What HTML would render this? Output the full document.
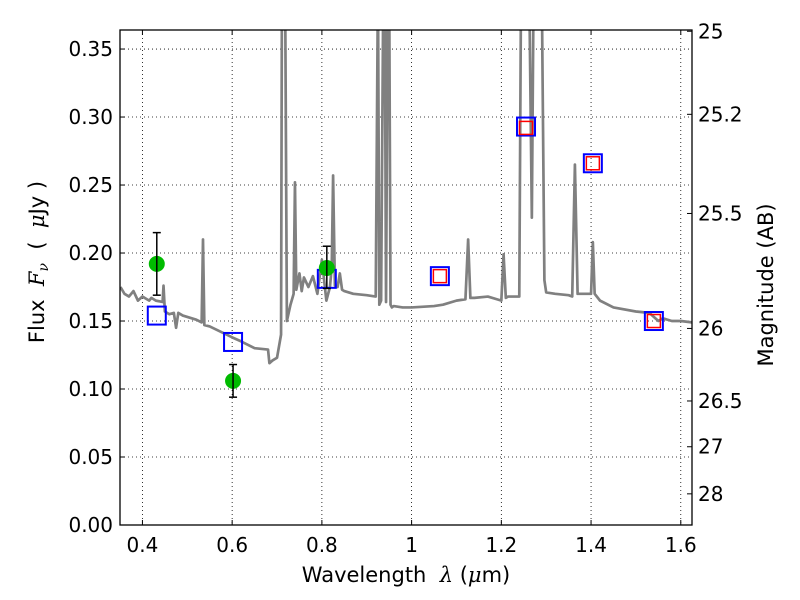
<!DOCTYPE html>
<html><head><meta charset="utf-8"><style>
body{margin:0;background:#fff;}
svg{display:block;font-family:"DejaVu Sans","Liberation Sans",sans-serif;}
</style></head><body>
<svg id="chart" width="800" height="600" viewBox="0 0 800 600" xmlns="http://www.w3.org/2000/svg"></svg>
<script>
const specLam=[0.351,0.36,0.37,0.38,0.39,0.40,0.41,0.415,0.42,0.43,0.445,0.447,0.45,0.46,0.47,0.475,0.48,0.49,0.50,0.52,0.532,0.535,0.538,0.55,0.60,0.62,0.65,0.68,0.683,0.69,0.70,0.709,0.711,0.714,0.718,0.722,0.73,0.737,0.74,0.743,0.75,0.755,0.76,0.77,0.78,0.79,0.80,0.81,0.818,0.822,0.825,0.829,0.835,0.84,0.845,0.85,0.87,0.90,0.92,0.925,0.928,0.932,0.937,0.940,0.943,0.947,0.950,0.953,0.956,0.96,0.98,1.00,1.05,1.07,1.10,1.12,1.126,1.131,1.14,1.17,1.19,1.20,1.205,1.210,1.215,1.22,1.24,1.244,1.25,1.262,1.268,1.272,1.276,1.282,1.29,1.296,1.30,1.32,1.35,1.358,1.364,1.370,1.375,1.40,1.404,1.408,1.42,1.45,1.50,1.53,1.55,1.56,1.58,1.60,1.625];
const specFlux=[0.175,0.170,0.168,0.172,0.165,0.168,0.166,0.165,0.167,0.165,0.164,0.176,0.157,0.155,0.156,0.145,0.156,0.154,0.153,0.151,0.149,0.210,0.147,0.146,0.138,0.135,0.130,0.129,0.119,0.121,0.123,0.140,0.40,0.40,0.40,0.150,0.162,0.17,0.252,0.173,0.185,0.172,0.182,0.175,0.183,0.170,0.195,0.165,0.175,0.190,0.257,0.176,0.175,0.185,0.173,0.172,0.170,0.169,0.168,0.40,0.162,0.165,0.40,0.40,0.164,0.40,0.40,0.162,0.160,0.161,0.160,0.160,0.161,0.162,0.165,0.166,0.210,0.167,0.167,0.168,0.166,0.165,0.199,0.167,0.168,0.168,0.168,0.40,0.40,0.40,0.226,0.40,0.40,0.40,0.40,0.18,0.171,0.170,0.169,0.168,0.265,0.170,0.170,0.170,0.208,0.170,0.165,0.160,0.157,0.156,0.150,0.152,0.150,0.150,0.149];
const photLam=[0.432,0.602,0.811,1.063,1.255,1.404,1.540];
const photFlux=[0.154,0.1346,0.181,0.183,0.293,0.266,0.150];
const modelLam=[1.063,1.255,1.404,1.540];
const modelFlux=[0.183,0.292,0.266,0.150];
const obsLam=[0.432,0.602,0.811];
const obsFlux=[0.192,0.106,0.189];
const obsErrUp=[0.023,0.012,0.016];
const obsErrDn=[0.023,0.012,0.015];
const xTicks=[0.4,0.6,0.8,1.0,1.2,1.4,1.6];
const xTickLabels=["0.4","0.6","0.8","1","1.2","1.4","1.6"];
const yTicks=[0,0.05,0.10,0.15,0.20,0.25,0.30,0.35];
const yTickLabels=["0.00","0.05","0.10","0.15","0.20","0.25","0.30","0.35"];
const magTicks=[25,25.2,25.5,26,26.5,27,28];
const magTickLabels=["25","25.2","25.5","26","26.5","27","28"];

const L=120,R=692,T=30,B=525,X0=0.35,X1=1.625,Y0=0,Y1=0.364;
const sx=v=>L+(v-X0)/(X1-X0)*(R-L);
const sy=v=>B-(v-Y0)/(Y1-Y0)*(B-T);
const NS="http://www.w3.org/2000/svg";
const svg=document.getElementById('chart');
function mk(tag,attrs,parent){const e=document.createElementNS(NS,tag);for(const k in attrs)e.setAttribute(k,attrs[k]);(parent||svg).appendChild(e);return e;}

const defs=mk('defs',{});
const cp=mk('clipPath',{id:'clip'},defs);
mk('rect',{x:L,y:T,width:R-L,height:B-T},cp);

const grid=mk('g',{});


xTicks.forEach(t=>{mk('line',{x1:sx(t),x2:sx(t),y1:T,y2:B,stroke:'#000','stroke-width':0.8,'stroke-dasharray':'1,3'},grid);});
yTicks.forEach(t=>{mk('line',{x1:L,x2:R,y1:sy(t),y2:sy(t),stroke:'#000','stroke-width':0.8,'stroke-dasharray':'1,3'},grid);});

const sp=mk('polyline',{points:specLam.map((l,i)=>sx(l)+','+sy(specFlux[i])).join(' '),fill:'none',stroke:'#808080','stroke-width':2.7,'stroke-linejoin':'round','clip-path':'url(#clip)'});



photLam.forEach((l,i)=>{
  const r=mk('rect',{x:sx(l)-9,y:sy(photFlux[i])-9,width:18,height:18,fill:'none',stroke:'#0000ff','stroke-width':2});
  
  
});
modelLam.forEach((l,i)=>{
  const r=mk('rect',{x:sx(l)-6.5,y:sy(modelFlux[i])-6.5,width:13,height:13,fill:'none',stroke:'#ff0000','stroke-width':1.5});
  
  
});
obsLam.forEach((l,i)=>{
  const g=mk('g',{});
  
  
  const x=sx(l),yt=sy(obsFlux[i]+obsErrUp[i]),yb=sy(obsFlux[i]-obsErrDn[i]);
  mk('circle',{cx:x,cy:sy(obsFlux[i]),r:8,fill:'#00bb00'},g);
  mk('line',{x1:x,x2:x,y1:yt,y2:yb,stroke:'#000','stroke-width':1.5},g);
  mk('line',{x1:x-4,x2:x+4,y1:yt,y2:yt,stroke:'#000','stroke-width':1.5},g);
  mk('line',{x1:x-4,x2:x+4,y1:yb,y2:yb,stroke:'#000','stroke-width':1.5},g);
});

const fr=mk('rect',{x:L,y:T,width:R-L,height:B-T,fill:'none',stroke:'#000','stroke-width':1.3});



xTicks.forEach((t,i)=>{
  mk('line',{x1:sx(t),x2:sx(t),y1:B,y2:B-5,stroke:'#000'});
  mk('line',{x1:sx(t),x2:sx(t),y1:T,y2:T+5,stroke:'#000'});
  const tx=mk('text',{x:sx(t),y:B+27,'font-size':20,'text-anchor':'middle'});
  tx.textContent=xTickLabels[i];
  
  
});
yTicks.forEach((t,i)=>{
  mk('line',{x1:L,x2:L+5,y1:sy(t),y2:sy(t),stroke:'#000'});
  const tx=mk('text',{x:L-7,y:sy(t)+7,'font-size':20,'text-anchor':'end'});
  tx.textContent=yTickLabels[i];
  
  
});
magTicks.forEach((m,i)=>{
  const f=Math.pow(10,(23.9-m)/2.5);
  const y=sy(f);
  mk('line',{x1:R,x2:R-5,y1:y,y2:y,stroke:'#000'});
  const tx=mk('text',{x:R+6,y:y+7,'font-size':20});
  tx.textContent=magTickLabels[i];
  
  
});

const xt=mk('text',{x:406,y:582,'font-size':21,'text-anchor':'middle'});
xt.innerHTML='Wavelength&#160;&#160;<tspan font-family="DejaVu Serif,serif" font-style="italic">λ</tspan> (<tspan font-family="DejaVu Serif,serif" font-style="italic">μ</tspan>m)';


const yt=mk('text',{x:44,y:262,'font-size':21,'text-anchor':'middle',transform:'rotate(-90 44 262)'});
yt.innerHTML='Flux&#160;&#160;<tspan font-family="DejaVu Serif,serif" font-style="italic">F</tspan><tspan font-family="DejaVu Serif,serif" font-style="italic" font-size="14" dy="4">ν</tspan><tspan dy="-4">&#160;&#160;(&#160;&#160;</tspan><tspan font-family="DejaVu Serif,serif" font-style="italic">μ</tspan>Jy )';


const rt=mk('text',{x:773,y:285,'font-size':21,'text-anchor':'middle',transform:'rotate(-90 773 285)'});
rt.textContent='Magnitude (AB)';


</script>
</body></html>
